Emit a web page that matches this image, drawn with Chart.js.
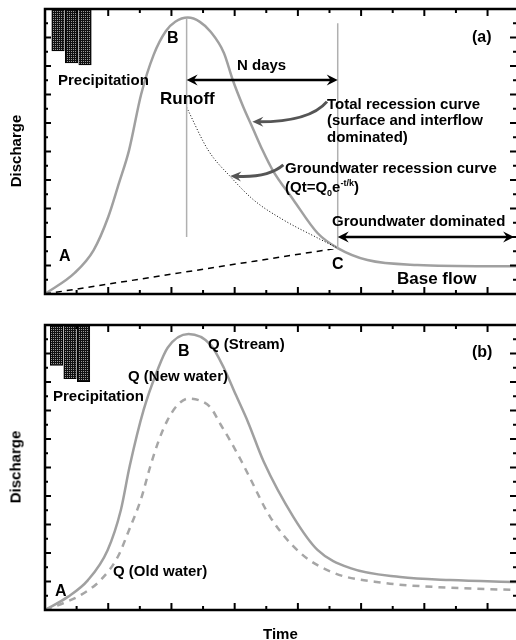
<!DOCTYPE html>
<html>
<head>
<meta charset="utf-8">
<script src="https://cdn.jsdelivr.net/npm/chart.js@4.4.1/dist/chart.umd.min.js"></script>
<style>
body { margin: 0; background: #fff; }
#wrap { position: relative; width: 516px; height: 640px; overflow: hidden;
  font-family: 'Liberation Sans', Arial, sans-serif; font-weight: bold; color: #000; }
#wrap canvas { position: absolute; left: 0; }
.t { position: absolute; white-space: nowrap; font-size: 15px; line-height: 15px; }
.big { font-size: 17px; line-height: 17px; }
.pt { font-size: 16px; line-height: 16px; }
.rot { position: absolute; font-size: 15px; line-height: 15px; transform: translate(-50%, -50%) rotate(-90deg); white-space: nowrap; }
sub, sup { font-size: 9px; line-height: 0; }
</style>
</head>
<body>
<div id="wrap">
  <canvas id="chartA" width="516" height="316" style="top:0"></canvas>
  <canvas id="chartB" width="516" height="324" style="top:316px"></canvas>

  <!-- panel (a) -->
  <div class="t" style="left:58px;top:72px">Precipitation</div>
  <div class="t pt" style="left:167px;top:30px">B</div>
  <div class="t big" style="left:160px;top:90px">Runoff</div>
  <div class="t" style="left:237px;top:57px">N days</div>
  <div class="t pt" style="left:472px;top:29px">(a)</div>
  <div class="t" style="left:327px;top:96px">Total recession curve</div>
  <div class="t" style="left:327px;top:112px">(surface and interflow</div>
  <div class="t" style="left:327px;top:129px">dominated)</div>
  <div class="t" style="left:285px;top:160px">Groundwater recession curve</div>
  <div class="t" style="left:285px;top:179px">(Qt=Q<sub>0</sub>e<sup>-t/k</sup>)</div>
  <div class="t" style="left:332px;top:213px">Groundwater dominated</div>
  <div class="t pt" style="left:332px;top:256px">C</div>
  <div class="t big" style="left:397px;top:270px">Base flow</div>
  <div class="t pt" style="left:59px;top:248px">A</div>
  <div class="rot" style="left:15px;top:151px">Discharge</div>

  <!-- panel (b) -->
  <div class="t pt" style="left:178px;top:343px">B</div>
  <div class="t" style="left:208px;top:336px">Q (Stream)</div>
  <div class="t" style="left:128px;top:368px">Q (New water)</div>
  <div class="t" style="left:53px;top:388px">Precipitation</div>
  <div class="t pt" style="left:472px;top:344px">(b)</div>
  <div class="t" style="left:113px;top:563px">Q (Old water)</div>
  <div class="t pt" style="left:55px;top:583px">A</div>
  <div class="rot" style="left:15px;top:467px">Discharge</div>
  <div class="t" style="left:263px;top:626px">Time</div>
</div>

<script>
// axis ticks (no tick labels in the figure)
const xMajor = [0, 1, 2, 3, 4, 5, 6, 7];
const xMinor = [0.5, 1.5, 2.5, 3.5, 4.5, 5.5, 6.5];
const yMajor = [0, 1, 2, 3, 4, 5, 6, 7, 8, 9, 10];
const yMinor = [0.5, 1.5, 2.5, 3.5, 4.5, 5.5, 6.5, 7.5, 8.5, 9.5];

// precipitation bars hang from the top: [x, lower edge]
const rainA = [[0.206, 8.53], [0.42, 8.11], [0.633, 8.04]];
const rainB = [[0.182, 8.58], [0.396, 8.12], [0.61, 8.01]];

// (a) hydrograph
const streamA = [[0, 0], [0.47, 0.74], [0.77, 1.54], [1.0, 2.7], [1.17, 3.89], [1.33, 5.05], [1.52, 7.0],
  [1.72, 8.4], [1.91, 9.22], [2.06, 9.55], [2.26, 9.7], [2.45, 9.55], [2.62, 9.2], [2.83, 8.46], [2.97, 7.51],
  [3.13, 6.6], [3.29, 5.8], [3.44, 5.05], [3.6, 4.35], [3.93, 3.3], [4.31, 2.14], [4.63, 1.61],
  [5.1, 1.19], [5.89, 1.02], [7.45, 0.97]];
const gwRecessA = [[2.24, 6.55], [2.58, 5.05], [2.94, 4.1], [3.3, 3.3], [3.77, 2.6], [4.3, 1.98], [4.63, 1.61]];
const baseA = [[0, 0], [4.63, 1.61]];
const peakLineA = [[2.24, 2.0], [2.24, 9.68]];
const cLineA = [[4.63, 1.61], [4.63, 9.5]];
const dblArrowsA = [[2.24, 7.51, 4.63, 7.51], [4.63, 2.0, 7.42, 2.0]];
const bentArrowsA = [[4.46, 6.75, 4.19, 6.04, 3.28, 6.04], [3.77, 4.53, 3.53, 4.07, 2.93, 4.14]];

// (b) stream and new water
const streamB = [[0, 0], [0.36, 0.46], [0.68, 1.05], [0.99, 2.1], [1.2, 3.51], [1.34, 5.05], [1.56, 7.02],
  [1.78, 8.42], [1.94, 9.2], [2.27, 9.68], [2.62, 9.3], [2.83, 8.49], [3.02, 7.54], [3.21, 6.6],
  [3.46, 5.2], [3.93, 3.26], [4.31, 2.11], [4.83, 1.47], [5.62, 1.16], [6.41, 1.05], [7.45, 0.98]];
const newWaterB = [[0, 0], [0.3, 0.25], [0.57, 0.53], [0.88, 1.05], [1.15, 1.86], [1.33, 2.81], [1.52, 3.9],
  [1.66, 5.0], [1.8, 5.95], [1.94, 6.67], [2.1, 7.2], [2.27, 7.42], [2.45, 7.35], [2.62, 7.1], [2.78, 6.5],
  [2.94, 5.9], [3.11, 5.21], [3.24, 4.64], [3.56, 3.27], [4.04, 2.0], [4.57, 1.3], [5.36, 0.95],
  [6.15, 0.81], [7.45, 0.7]];

const pts = (arr) => arr.map(([x, y]) => ({ x, y }));

// dotted fill for the rain bars
const tile = document.createElement('canvas');
tile.width = 2; tile.height = 2;
const tctx = tile.getContext('2d');
tctx.fillStyle = '#111'; tctx.fillRect(0, 0, 2, 2);
tctx.fillStyle = '#9a9a9a'; tctx.fillRect(1, 1, 1, 1);
const rainFill = tctx.createPattern(tile, 'repeat');

function head(ctx, x, y, ang, len, w) {
  const c = Math.cos(ang), s = Math.sin(ang);
  ctx.beginPath();
  ctx.moveTo(x, y);
  ctx.lineTo(x - len * c - w * s, y - len * s + w * c);
  ctx.lineTo(x - 0.65 * len * c, y - 0.65 * len * s);
  ctx.lineTo(x - len * c + w * s, y - len * s - w * c);
  ctx.closePath();
  ctx.fill();
}

const frame = {
  id: 'frame',
  afterDatasetsDraw(chart, args, opts) {
    const { ctx, chartArea: a, scales: { x, y } } = chart;
    ctx.save();
    ctx.strokeStyle = '#000';
    ctx.lineWidth = 2;
    const xt = (vals, len) => vals.forEach((v) => {
      const px = x.getPixelForValue(v);
      ctx.beginPath();
      ctx.moveTo(px, a.bottom); ctx.lineTo(px, a.bottom - len);
      ctx.moveTo(px, a.top); ctx.lineTo(px, a.top + len);
      ctx.stroke();
    });
    const yt = (vals, len) => vals.forEach((v) => {
      const py = y.getPixelForValue(v);
      ctx.beginPath();
      ctx.moveTo(a.left, py); ctx.lineTo(a.left + len, py);
      ctx.moveTo(a.right, py); ctx.lineTo(a.right - len, py);
      ctx.stroke();
    });
    xt(xMajor, 7); xt(xMinor, 4);
    yt(yMajor, 6); yt(yMinor, 3);

    ctx.lineWidth = 2.5;
    ctx.beginPath();
    ctx.moveTo(a.right + 2, a.top); ctx.lineTo(a.left, a.top);
    ctx.lineTo(a.left, a.bottom); ctx.lineTo(a.right + 2, a.bottom);
    ctx.stroke();

    // straight double arrows
    ctx.fillStyle = '#000';
    ctx.lineWidth = 2.5;
    (opts.dbl || []).forEach(([x1, y1, x2, y2]) => {
      const p1 = [x.getPixelForValue(x1), y.getPixelForValue(y1)];
      const p2 = [x.getPixelForValue(x2), y.getPixelForValue(y2)];
      ctx.beginPath();
      ctx.moveTo(p1[0] + 6, p1[1]); ctx.lineTo(p2[0] - 6, p2[1]);
      ctx.stroke();
      head(ctx, p1[0], p1[1], Math.PI, 11, 5.5);
      head(ctx, p2[0], p2[1], 0, 11, 5.5);
    });

    // bent pointer arrows
    ctx.strokeStyle = '#555';
    ctx.fillStyle = '#555';
    ctx.lineWidth = 3;
    (opts.bent || []).forEach(([sx, sy, cx, cy, ex, ey]) => {
      const s = [x.getPixelForValue(sx), y.getPixelForValue(sy)];
      const c = [x.getPixelForValue(cx), y.getPixelForValue(cy)];
      const e = [x.getPixelForValue(ex), y.getPixelForValue(ey)];
      const ang = Math.atan2(e[1] - c[1], e[0] - c[0]);
      ctx.beginPath();
      ctx.moveTo(s[0], s[1]);
      ctx.quadraticCurveTo(c[0], c[1], e[0] - 6 * Math.cos(ang), e[1] - 6 * Math.sin(ang));
      ctx.stroke();
      head(ctx, e[0], e[1], ang, 11, 5);
    });
    ctx.restore();
  }
};

function makeChart(id, padding, datasets, dbl, bent) {
  return new Chart(document.getElementById(id), {
    type: 'line',
    data: { datasets },
    options: {
      responsive: false,
      animation: false,
      events: [],
      layout: { padding },
      elements: { point: { radius: 0 } },
      plugins: { legend: { display: false }, tooltip: { enabled: false }, frame: { dbl, bent } },
      scales: {
        x: { type: 'linear', min: 0, max: 7.45, offset: false, display: false },
        y: { type: 'linear', min: 0, max: 10, display: false }
      }
    },
    plugins: [frame]
  });
}

const rainSet = (arr) => ({
  type: 'bar',
  data: arr.map(([x, lo]) => ({ x, y: [lo, 10] })),
  backgroundColor: rainFill,
  borderColor: '#000',
  borderWidth: 1,
  borderSkipped: false,
  barThickness: 12.5
});
const curve = (arr, color, width, dash) => ({
  data: pts(arr),
  borderColor: color,
  borderWidth: width,
  borderDash: dash || [],
  cubicInterpolationMode: 'monotone',
  fill: false
});

makeChart('chartA', { left: 45, top: 9, right: 0, bottom: 22 }, [
  curve(peakLineA, '#b0b0b0', 1.5),
  curve(cLineA, '#b0b0b0', 1.5),
  curve(baseA, '#000', 1.5, [6, 5]),
  curve(gwRecessA, '#000', 1, [1, 2]),
  curve(streamA, '#a0a0a0', 2.5),
  rainSet(rainA)
], dblArrowsA, bentArrowsA);

makeChart('chartB', { left: 45, top: 9, right: 0, bottom: 30 }, [
  curve(newWaterB, '#a6a6a6', 2.5, [7, 6]),
  curve(streamB, '#a0a0a0', 2.5),
  rainSet(rainB)
], [], []);
</script>
</body>
</html>
